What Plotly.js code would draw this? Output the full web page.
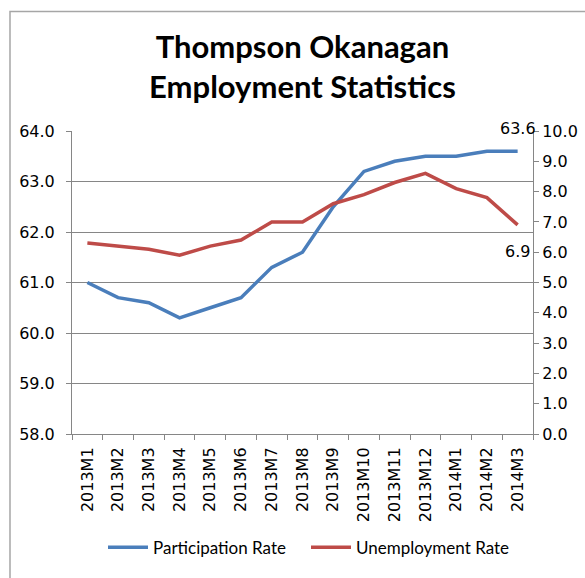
<!DOCTYPE html>
<html><head><meta charset="utf-8">
<script src="https://cdn.plot.ly/plotly-3.0.1.min.js"></script>
<style>html,body{margin:0;padding:0;background:#fff}</style>
</head><body><div id="chart" style="width:585px;height:578px"></div>
<script>
const months = ["2013M1","2013M2","2013M3","2013M4","2013M5","2013M6","2013M7","2013M8","2013M9","2013M10","2013M11","2013M12","2014M1","2014M2","2014M3"];
const participationRate = [61.0,60.7,60.6,60.3,60.5,60.7,61.3,61.6,62.5,63.2,63.4,63.5,63.5,63.6,63.6];
const unemploymentRate = [6.3,6.2,6.1,5.9,6.2,6.4,7.0,7.0,7.6,7.9,8.3,8.6,8.1,7.8,6.9];
const leftTicks = [58,59,60,61,62,63,64];
const rightTicks = [0,1,2,3,4,5,6,7,8,9,10];

const NUMFONT = "DejaVu Sans, sans-serif";
const TXTFONT = "Lato, Open Sans, sans-serif";
const axisGray = "#868686";
const last = months.length - 1;

const traces = [
  {x: months, y: participationRate, name: "Participation Rate", type: "scatter", mode: "lines",
   line: {color: "#4a7ebb", width: 3.5}, yaxis: "y"},
  {x: months, y: unemploymentRate, name: "Unemployment Rate", type: "scatter", mode: "lines",
   line: {color: "#be4b48", width: 3.5}, yaxis: "y2"}
];

const layout = {
  width: 585, height: 578,
  margin: {l: 72, r: 52, t: 131, b: 140},
  paper_bgcolor: "#fff", plot_bgcolor: "#fff",
  font: {family: NUMFONT, size: 16, color: "#000"},
  title: {text: "<b>Thompson Okanagan<br>Employment Statistics</b>", font: {family: TXTFONT, size: 31, color: "#000"},
          x: 0.517, xanchor: "center", y: 0.90, yanchor: "middle"},
  showlegend: true,
  legend: {orientation: "h", x: 0.5076, xanchor: "center", y: -0.375, yanchor: "middle",
           font: {family: TXTFONT, size: 17}, traceorder: "normal", itemwidth: 40,
           entrywidth: 148, entrywidthmode: "pixels"},
  xaxis: {type: "category", range: [-0.5, 14.5], tickangle: -90, showline: true, linecolor: axisGray, linewidth: 1,
          ticks: "outside", ticklen: 5, tickcolor: axisGray, tickson: "boundaries", ticklabelstandoff: 6,
          automargin: false,
          showgrid: false, zeroline: false, tickfont: {family: NUMFONT, size: 16}},
  yaxis: {range: [58, 64], tickvals: leftTicks, ticktext: leftTicks.map(v => v.toFixed(1)),
          showline: true, linecolor: axisGray, ticks: "outside", ticklen: 5, tickcolor: axisGray,
          ticklabelstandoff: 8, automargin: false,
          showgrid: true, gridcolor: axisGray, gridwidth: 1, zeroline: false,
          tickfont: {family: NUMFONT, size: 16}},
  yaxis2: {range: [0, 10], tickvals: rightTicks, ticktext: rightTicks.map(v => v.toFixed(1)),
           overlaying: "y", side: "right", showline: true, linecolor: axisGray, automargin: false,
           ticks: "outside", ticklen: 5, tickcolor: axisGray, showgrid: false, zeroline: false,
           tickfont: {family: NUMFONT, size: 16}},
  annotations: [
    {x: months[last], y: participationRate[last], xref: "x", yref: "y", text: participationRate[last].toFixed(1),
     showarrow: false, yshift: 23, font: {family: NUMFONT, size: 16}},
    {x: months[last], y: unemploymentRate[last], xref: "x", yref: "y2", text: unemploymentRate[last].toFixed(1),
     showarrow: false, yshift: -27, font: {family: NUMFONT, size: 16}}
  ],
  shapes: [
    {type: "rect", xref: "paper", yref: "paper", x0: -0.1345, x1: 1.2, y0: -0.6, y1: 1.394,
     line: {color: "#a6a6a6", width: 1.5}, fillcolor: "rgba(0,0,0,0)", layer: "below"}
  ]
};

Plotly.newPlot("chart", traces, layout, {displayModeBar: false, staticPlot: true});
</script></body></html>
